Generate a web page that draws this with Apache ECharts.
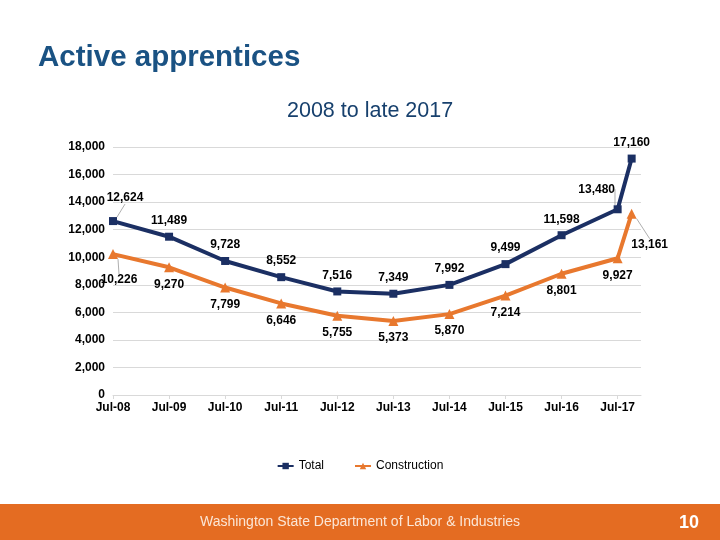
<!DOCTYPE html>
<html>
<head>
<meta charset="utf-8">
<script src="https://cdn.jsdelivr.net/npm/echarts@6/dist/echarts.min.js"></script>
<style>html,body{margin:0;padding:0;background:#fff}#c{width:720px;height:540px}</style>
</head>
<body>
<div id="c"></div>
<script>
// ---- data ----
const pointDates = ['2008-07','2009-07','2010-07','2011-07','2012-07','2013-07','2014-07','2015-07','2016-07','2017-07','2017-10'];
const totalValues = [12624, 11489, 9728, 8552, 7516, 7349, 7992, 9499, 11598, 13480, 17160];
const constructionValues = [10226, 9270, 7799, 6646, 5755, 5373, 5870, 7214, 8801, 9927, 13161];
const xTickLabels = ['Jul-08','Jul-09','Jul-10','Jul-11','Jul-12','Jul-13','Jul-14','Jul-15','Jul-16','Jul-17'];
const seriesNames = ['Total', 'Construction'];

function monthsSinceStart(d) {
  const [y, m] = d.split('-').map(Number);
  const [y0, m0] = pointDates[0].split('-').map(Number);
  return (y - y0) * 12 + (m - m0);
}
const fmt = v => v.toLocaleString('en-US');
const LAB = "'Liberation Sans',Arial,sans-serif";

// label adjustments (styling only)
const totalLabelMove = {0: {dx: 12, dy: -7}, 9: {dx: -21, dy: -4}};
const consLabelMove = {0: {dx: 6, dy: 9}, 10: {dx: 18, dy: 14}};

function buildData(values, moves) {
  return values.map((v, i) => {
    const item = { value: [monthsSinceStart(pointDates[i]), v] };
    if (moves[i]) item.labelLine = { show: true };
    return item;
  });
}

const chart = echarts.init(document.getElementById('c'), null, { renderer: 'canvas' });
chart.setOption({
  animation: false,
  backgroundColor: '#ffffff',
  title: [
    { text: 'Active apprentices', left: 33, top: 38,
      textStyle: { fontFamily: LAB, fontSize: 29.5, fontWeight: 'bold', color: '#1A5283' } },
    { text: '2008 to late 2017', left: 282, top: 95,
      textStyle: { fontFamily: LAB, fontSize: 21.5, fontWeight: 'normal', color: '#17406D' } }
  ],
  grid: { left: 113, right: 79, top: 147, bottom: 145, containLabel: false },
  legend: {
    top: 455, left: 'center', itemGap: 30, itemWidth: 16, itemHeight: 8,
    textStyle: { fontFamily: LAB, fontSize: 12, color: '#000', fontWeight: 'normal' },
    data: seriesNames
  },
  xAxis: {
    type: 'value', min: 0, max: 113, interval: 12,
    axisLine: { show: true, lineStyle: { color: '#D9D9D9' } },
    axisTick: { show: true, length: 4, lineStyle: { color: '#D9D9D9' } },
    splitLine: { show: false },
    axisLabel: {
      margin: 7, showMaxLabel: false,
      fontFamily: LAB, fontSize: 12, fontWeight: 'bold', color: '#000',
      formatter: v => (v % 12 === 0 && xTickLabels[v / 12]) ? xTickLabels[v / 12] : ''
    }
  },
  yAxis: {
    type: 'value', min: 0, max: 18000, interval: 2000,
    axisLine: { show: false }, axisTick: { show: false },
    splitLine: { lineStyle: { color: '#D9D9D9', width: 1 } },
    axisLabel: {
      margin: 8, fontFamily: LAB, fontSize: 12, fontWeight: 'bold', color: '#000',
      formatter: v => fmt(v)
    }
  },
  series: [
    {
      name: seriesNames[0], type: 'line',
      data: buildData(totalValues, totalLabelMove),
      lineStyle: { color: '#1B2F63', width: 4 },
      itemStyle: { color: '#1B2F63' },
      symbol: 'rect', symbolSize: 8,
      label: { show: true, position: 'top', distance: 6,
        fontFamily: LAB, fontSize: 12, fontWeight: 'bold', color: '#000',
        formatter: p => fmt(p.value[1]) },
      labelLine: { show: false, lineStyle: { color: '#999', width: 0.8 } },
      labelLayout: p => totalLabelMove[p.dataIndex] || {},
      z: 3
    },
    {
      name: seriesNames[1], type: 'line',
      data: buildData(constructionValues, consLabelMove),
      lineStyle: { color: '#E8782E', width: 4 },
      itemStyle: { color: '#E8782E' },
      symbol: 'triangle', symbolSize: 10,
      label: { show: true, position: 'bottom', distance: 6,
        fontFamily: LAB, fontSize: 12, fontWeight: 'bold', color: '#000',
        formatter: p => fmt(p.value[1]) },
      labelLine: { show: false, lineStyle: { color: '#999', width: 0.8 } },
      labelLayout: p => consLabelMove[p.dataIndex] || {},
      z: 2
    }
  ],
  graphic: [
    { type: 'rect', left: 0, top: 504, shape: { width: 720, height: 36 }, style: { fill: '#E46C22' }, z: 10 },
    { type: 'text', left: 'center', top: 515, z: 11,
      style: { text: 'Washington State Department of Labor & Industries', fill: '#FBE6D6',
        font: "normal 14px 'Liberation Sans',Arial,sans-serif" } },
    { type: 'text', left: 679, top: 514, z: 11,
      style: { text: '10', fill: '#ffffff', font: "bold 18px 'Liberation Sans',Arial,sans-serif" } }
  ]
});
</script>
</body>
</html>
